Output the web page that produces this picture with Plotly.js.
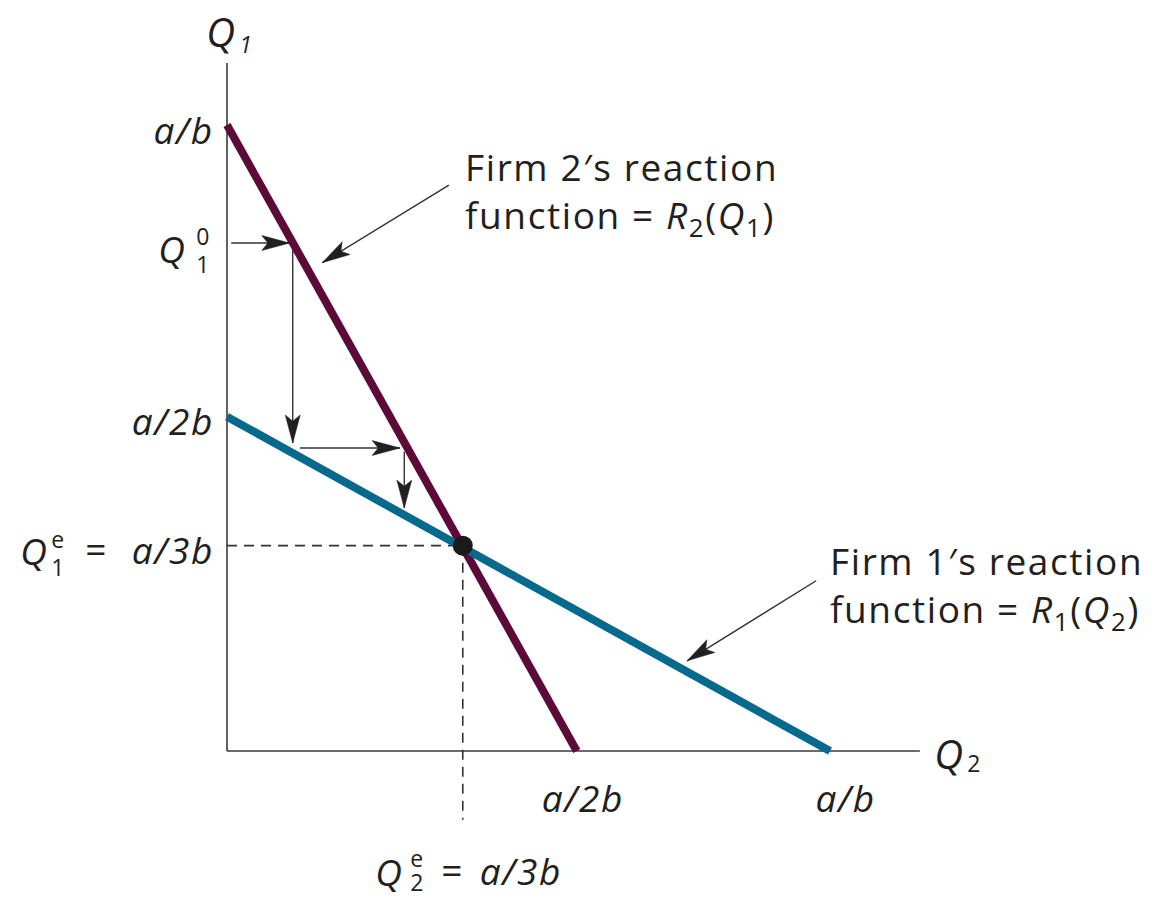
<!DOCTYPE html>
<html>
<head>
<meta charset="utf-8">
<script src="https://cdn.plot.ly/plotly-3.0.1.min.js"></script>
<style>
  html, body { margin: 0; padding: 0; background: #fff; }
  #chart { width: 1167px; height: 898px; }
  #chart .annotation-text { letter-spacing: 1.6px; }
</style>
</head>
<body>
<div id="chart"></div>
<script>
// Cournot duopoly: reaction functions and the adjustment path to equilibrium.
// Quantities are expressed in units of a/b (Q2 horizontal, Q1 vertical).

// Firm 2's reaction function R2(Q1): endpoints (Q2, Q1)
const r2Q2 = [0, 0.58];
const r2Q1 = [1.0, 0];
// Firm 1's reaction function R1(Q2): endpoints (Q2, Q1)
const r1Q2 = [0, 1.0];
const r1Q1 = [0.534, 0];
// Cournot equilibrium
const eqQ2 = [0.391];
const eqQ1 = [0.328];
// Axis extents and the lower end of the equilibrium guide
const q2AxisEnd = 1.149;
const q1AxisEnd = 1.099;
const guideBottom = -0.11;

// Adjustment path from Q1^0: start and end of each arrow
const stepFromQ2 = [0.007, 0.109, 0.121, 0.294];
const stepFromQ1 = [0.8115, 0.800, 0.484, 0.478];
const stepToQ2   = [0.104, 0.109, 0.287, 0.294];
const stepToQ1   = [0.8115, 0.492, 0.484, 0.388];

// Callout pointers (tail at the text, tip near the line)
const noteTailQ2 = [0.368, 0.977];
const noteTailQ1 = [0.904, 0.272];
const noteTipQ2  = [0.158, 0.763];
const noteTipQ1  = [0.780, 0.144];
const noteText = [
  'Firm 2\u2032s reaction<br>function = <i>R</i><sub>2</sub>(<i>Q</i><sub>1</sub>)',
  'Firm 1\u2032s reaction<br>function = <i>R</i><sub>1</sub>(<i>Q</i><sub>2</sub>)'
];

// Tick values and labels
const q2TickVals = [0.58, 1.0];
const q2TickText = ['<i>a/2b</i>', '<i>a/b</i>'];
const q1TickVals = [1.0, 0.534];
const q1TickText = ['<i>a/b</i>', '<i>a/2b</i>'];
const q1StartVal = 0.8115;
const eqText = '<i>a/3b</i>';

// ---- page geometry (pixels) ----
const W = 1167, H = 898;
const X0PX = 227, SX = 603;   // pixel of Q2 = 0, pixels per a/b
const Y0PX = 751, SY = 626;   // pixel of Q1 = 0, pixels per a/b
const xRange = [-X0PX / SX, (W - X0PX) / SX];
const yRange = [-(H - Y0PX) / SY, Y0PX / SY];

const INK = '#231f20';
const MAROON = '#5c0a38';
const TEAL = '#07698c';
const FONT = '"Open Sans", Lato, sans-serif';
const BIG = 37, SMALL = 23;

const traces = [];
const shapes = [];
const annotations = [];

function seg(x, y, color, width, dash) {
  traces.push({
    type: 'scatter', mode: 'lines', x: x, y: y, hoverinfo: 'skip',
    line: { color: color, width: width, dash: dash || 'solid' }
  });
}

// arrowhead at (x1, y1) pointing along the direction from (x0, y0)
function head(x0, y0, x1, y1) {
  const dx = (x1 - x0) * SX, dy = (y1 - y0) * SY;
  const a = Math.atan2(dy, dx);
  const L = 28, w = 7.5, notch = 0.78 * L;
  const pts = [[0, 0], [-L, w], [-notch, 0], [-L, -w]];
  const c = Math.cos(a), s = Math.sin(a);
  const p = pts.map(([u, v]) => [u * c - v * s, u * s + v * c]);
  const path = 'M' + p.map(q => q[0].toFixed(2) + ',' + q[1].toFixed(2)).join(' L') + ' Z';
  shapes.push({
    type: 'path', xref: 'x', yref: 'y', xsizemode: 'pixel', ysizemode: 'pixel',
    xanchor: x1, yanchor: y1, path: path,
    fillcolor: INK, line: { color: INK, width: 0.5 }, layer: 'above'
  });
}

// axes
seg([0, 0], [q1AxisEnd, 0], '#3a3a3a', 1.6);
seg([0, q2AxisEnd], [0, 0], '#3a3a3a', 1.6);

// equilibrium guides
seg([0, eqQ2[0]], [eqQ1[0], eqQ1[0]], '#333', 1.6, '10px,7px');
seg([eqQ2[0], eqQ2[0]], [eqQ1[0], guideBottom], '#333', 1.6, '10px,7px');

// adjustment path
for (let i = 0; i < stepFromQ2.length; i++) {
  seg([stepFromQ2[i], stepToQ2[i]], [stepFromQ1[i], stepToQ1[i]], '#333', 1.4);
  head(stepFromQ2[i], stepFromQ1[i], stepToQ2[i], stepToQ1[i]);
}

// reaction functions
seg(r2Q2, r2Q1, MAROON, 8);
seg(r1Q2, r1Q1, TEAL, 8);

// equilibrium point
traces.push({
  type: 'scatter', mode: 'markers', x: eqQ2, y: eqQ1, hoverinfo: 'skip',
  marker: { size: 20, color: '#1a1a1a' }
});

// callouts
for (let i = 0; i < noteTailQ2.length; i++) {
  seg([noteTailQ2[i], noteTipQ2[i]], [noteTailQ1[i], noteTipQ1[i]], '#333', 1.4);
  head(noteTailQ2[i], noteTailQ1[i], noteTipQ2[i], noteTipQ1[i]);
}

function px(xp) { return (xp - X0PX) / SX; }
function py(yp) { return (Y0PX - yp) / SY; }

function text(t, x, y, o) {
  annotations.push(Object.assign({
    text: t, x: x, y: y, xref: 'x', yref: 'y', showarrow: false,
    font: { family: FONT, size: BIG, color: INK },
    xanchor: 'center', yanchor: 'middle'
  }, o || {}));
}
const small = { family: FONT, size: SMALL, color: INK };
const titleFont = { family: FONT, size: 40, color: INK };

// axis titles
text('<i>Q</i>', px(221), py(31), { font: titleFont });
text('<i>1</i>', px(246), py(44), { font: small });
text('<i>Q</i>', px(949), py(753), { font: titleFont });
text('2', px(974), py(763), { font: small });

// Q1 tick labels
for (let i = 0; i < q1TickVals.length; i++) {
  text(q1TickText[i], 0, q1TickVals[i], { xanchor: 'right', xshift: -14, yshift: -4 });
}
// Q1^0
text('<i>Q</i>', 0, q1StartVal, { xanchor: 'right', xshift: -39, yshift: -5 });
text('0', 0, q1StartVal, { xanchor: 'center', xshift: -24, yshift: 7, font: small });
text('1', 0, q1StartVal, { xanchor: 'center', xshift: -24, yshift: -21, font: small });
// Q1^e = a/3b
text(eqText, 0, eqQ1[0], { xanchor: 'right', xshift: -14, yshift: -4 });
text('=', 0, eqQ1[0], { xanchor: 'center', xshift: -131, yshift: -3 });
text('<i>Q</i>', 0, eqQ1[0], { xanchor: 'right', xshift: -177, yshift: -5 });
text('e', 0, eqQ1[0], { xanchor: 'center', xshift: -169, yshift: 7, font: small });
text('1', 0, eqQ1[0], { xanchor: 'center', xshift: -169, yshift: -21, font: small });

// Q2 tick labels
const q2Shift = [6, 15];
for (let i = 0; i < q2TickVals.length; i++) {
  text(q2TickText[i], q2TickVals[i], 0, { xshift: q2Shift[i], yshift: -46 });
}
// Q2^e = a/3b
text(eqText, eqQ2[0], guideBottom, { xanchor: 'left', xshift: 18, yshift: -51 });
text('=', eqQ2[0], guideBottom, { xanchor: 'center', xshift: -10, yshift: -50 });
text('<i>Q</i>', eqQ2[0], guideBottom, { xanchor: 'right', xshift: -58, yshift: -52 });
text('e', eqQ2[0], guideBottom, { xanchor: 'center', xshift: -45, yshift: -38, font: small });
text('2', eqQ2[0], guideBottom, { xanchor: 'center', xshift: -45, yshift: -62, font: small });

// callout texts
text(noteText[0], px(463), py(193), { xanchor: 'left', align: 'left' });
text(noteText[1], px(828), py(587), { xanchor: 'left', align: 'left' });

const layout = {
  width: W, height: H,
  margin: { l: 0, r: 0, t: 0, b: 0 },
  paper_bgcolor: '#fff', plot_bgcolor: '#fff',
  showlegend: false,
  xaxis: { range: xRange, visible: false, fixedrange: true },
  yaxis: { range: yRange, visible: false, fixedrange: true },
  shapes: shapes,
  annotations: annotations
};

Plotly.newPlot('chart', traces, layout, { displayModeBar: false, staticPlot: true });
</script>
</body>
</html>
